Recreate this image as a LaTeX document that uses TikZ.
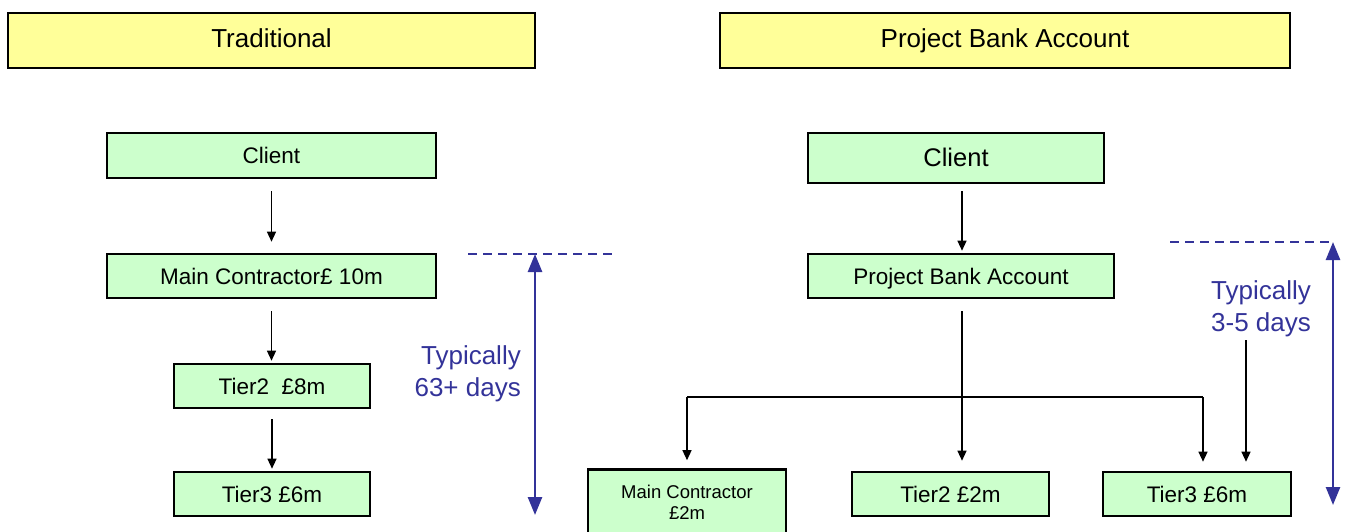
\documentclass[tikz,border=0pt]{standalone}
\usepackage{fontspec}
\setmainfont{Liberation Sans}
\usetikzlibrary{arrows.meta}
\definecolor{hdrfill}{HTML}{FFFF99}
\definecolor{boxfill}{HTML}{CCFFCC}
\definecolor{spanblue}{HTML}{333399}
\tikzset{
  hdr/.style={draw=black, line width=2.6pt, fill=hdrfill, inner sep=0pt,
    text height=18.5pt, text depth=5pt,
    font=\fontsize{26}{30}\selectfont},
  flowbox/.style={draw=black, line width=2.6pt, fill=boxfill, inner sep=0pt,
    text height=16pt, text depth=0pt,
    font=\fontsize{22.5}{26}\selectfont},
  arr/.style={draw=black, line width=1.3pt, -{Triangle[length=10pt,width=9pt]}},
  plain/.style={draw=black, line width=1.3pt},
  span/.style={draw=spanblue, line width=2.6pt,
    {Triangle[length=18pt,width=14pt]}-{Triangle[length=18pt,width=14pt]}},
  guide/.style={draw=spanblue, line width=1.3pt, dash pattern=on 9pt off 6pt},
  note/.style={text=spanblue, font=\fontsize{26}{32}\selectfont, inner sep=0pt}
}
\begin{document}
\begin{tikzpicture}[x=1pt, y=-1pt]
\useasboundingbox (0,0) rectangle (1349,532);

% headers
\node[hdr, minimum width=527pt, minimum height=55pt] (hTrad) at (271.5,40.5) {Traditional};
\node[hdr, minimum width=570pt, minimum height=55pt] (hPBA) at (1005,40.5) {Project Bank Account};

% traditional chain
\node[flowbox, minimum width=329pt, minimum height=45pt] (lc) at (271.5,155.5) {Client};
\node[flowbox, minimum width=329pt, minimum height=44pt] (lmc) at (271.5,276) {Main Contractor£ 10m};
\node[flowbox, minimum width=196pt, minimum height=44pt] (lt2) at (272,386) {Tier2\ \ £8m};
\node[flowbox, minimum width=196pt, minimum height=44pt] (lt3) at (272,494) {Tier3 £6m};

\draw[arr, shorten <=12pt, shorten >=11pt] (lc.south) -- (lc.south |- lmc.north);
\draw[arr, shorten <=12pt, shorten >=2pt] (lmc.south) -- (lmc.south |- lt2.north);
\draw[arr, shorten <=10pt, shorten >=2pt] (lt2.south) -- (lt2.south |- lt3.north);

% payment span, traditional
\coordinate (lgA) at (468,254);
\coordinate (lgB) at (612,254);
\coordinate (lsTop) at (535,254);
\coordinate (lsBot) at (535,515);
\draw[guide] (lgA) -- (lgB);
\draw[span] (lsTop) -- (lsBot);
\node[note, align=right, anchor=east] (lnote) at (521,374) {Typically\\63+ days};

% project bank account tree
\node[flowbox, minimum width=296pt, minimum height=50pt, font=\fontsize{25.5}{30}\selectfont, text height=18pt, text depth=0pt] (rc) at (956,158) {Client};
\node[flowbox, minimum width=306pt, minimum height=44pt] (pba) at (961,276) {Project Bank Account};
\node[flowbox, minimum width=198pt, minimum height=66pt, font=\fontsize{18.5}{21}\selectfont, align=center, text height=, text depth=] (rmc) at (687,502.5) {Main Contractor\\£2m};
\node[flowbox, minimum width=197pt, minimum height=44pt] (rt2) at (950.5,494) {Tier2 £2m};
\node[flowbox, minimum width=188pt, minimum height=44pt] (rt3) at (1197,494) {Tier3 £6m};

\draw[arr, shorten <=7pt, shorten >=2pt] ([xshift=6pt]rc.south) -- ([xshift=6pt]rc.south |- pba.north);
\draw[arr, shorten <=12pt, shorten >=10pt] ([xshift=1pt]pba.south) -- ([xshift=1pt]pba.south |- rt2.north);

\coordinate (busL) at (rmc.north |- 0,397);
\coordinate (busR) at ([xshift=6pt]rt3.north |- 0,397);
\draw[plain] (busL) -- (busR);
\draw[arr, shorten >=8pt] (busL) -- (rmc.north);
\draw[arr, shorten >=9pt] (busR) -- ([xshift=6pt]rt3.north);

\coordinate (fast) at (1246,340);
\draw[arr, shorten >=9pt] (fast) -- (fast |- rt3.north);

% payment span, project bank account
\coordinate (rgA) at (1170,242);
\coordinate (rgB) at (1333,242);
\coordinate (rsBot) at (1333,505);
\draw[guide] (rgA) -- (rgB);
\draw[span] (rgB) -- (rsBot);
\node[note, align=center] (rnote) at (1261,309) {Typically\\3-5 days};
\end{tikzpicture}
\end{document}
